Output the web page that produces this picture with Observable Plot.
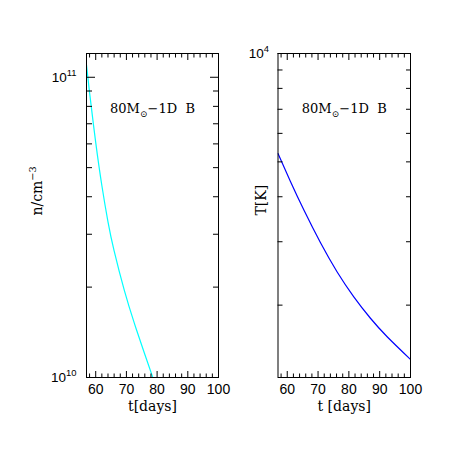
<!DOCTYPE html>
<html>
<head>
<meta charset="utf-8">
<script src="https://cdn.jsdelivr.net/npm/d3@7"></script>
<script src="https://cdn.jsdelivr.net/npm/@observablehq/plot@0.6"></script>
<style>
  body { margin: 0; background: #fff; }
  #chart { position: relative; width: 463px; height: 463px; background: #fff; }
  #chart svg { position: absolute; left: 0; top: 0; }
</style>
</head>
<body>
<div id="chart"></div>
<script>
// ---- data ----
const xDomain = [57, 100];
const xMajorTicks = [60, 70, 80, 90, 100];
const xMinorTicks = [58, 62, 64, 66, 68, 72, 74, 76, 78, 82, 84, 86, 88, 92, 94, 96, 98];

const densityDays = [57, 58, 60, 62, 64, 66, 69.3, 72.6, 75.9, 78.6];
const densityValues = [1.099e11, 8.89e10, 6.07e10, 4.36e10, 3.30e10, 2.64e10, 1.954e10, 1.514e10, 1.202e10, 1.0e10];
const densityDomain = [1e10, 1.2e11];
const densityMajorTicks = [1e10, 1e11];
const densityMinorTicks = [2e10, 3e10, 4e10, 5e10, 6e10, 7e10, 8e10, 9e10];
const densityTickLabels = ["10^{10}", "10^{11}"];

const tempDays = [57, 61, 65.4, 70.8, 76.2, 81.6, 87, 92.5, 100];
const tempValues = [5272, 4416, 3673, 2979, 2472, 2109, 1839, 1631, 1413];
const tempDomain = [1259, 1e4];
const tempMajorTicks = [1e4];
const tempMinorTicks = [2000, 3000, 4000, 5000, 6000, 7000, 8000, 9000];
const tempTickLabels = ["10^{4}"];

const panelLabel = "80M_{⊙}\u22121D\u00a0 B";
const densityXLabel = "t[days]";
const densityYLabel = "n/cm^{\u22123}";
const tempXLabel = "t [days]";
const tempYLabel = "T[K]";

const SERIF = "DejaVu Serif";
const SANS = "Liberation Sans";

function panel(o) {
  const rows = o.days.map((d, i) => ({t: d, v: o.values[i]}));
  const tickX = (ticks, anchor, L) => Plot.axisX({ticks, anchor, tickSize: L, fill: "none", label: null, dy: anchor === "bottom" ? -L : L, stroke: "#000"});
  const tickY = (ticks, anchor, L) => Plot.axisY({ticks, anchor, tickSize: L, fill: "none", label: null, dx: anchor === "left" ? L : -L, stroke: "#000"});
  return Plot.plot({
    width: 463,
    height: 463,
    marginLeft: o.left,
    marginRight: o.right,
    marginTop: 53,
    marginBottom: 86,
    style: {background: "transparent", overflow: "visible"},
    x: {domain: xDomain},
    y: {type: "log", domain: o.domain},
    marks: [
      Plot.line(rows, {x: "t", y: "v", stroke: o.color, strokeWidth: 1.2, curve: "natural", clip: true}),
      Plot.frame({stroke: "#000", strokeWidth: 1}),
      tickX(xMajorTicks, "bottom", 6),
      tickX(xMinorTicks, "bottom", 3.5),
      tickX(xMajorTicks, "top", 6),
      tickX(xMinorTicks, "top", 3.5),
      tickY(o.major, "left", 9),
      tickY(o.minor, "left", o.minorLen),
      tickY(o.major, "right", 9),
      tickY(o.minor, "right", o.minorLen),
      Plot.axisX({ticks: xMajorTicks, anchor: "bottom", tickSize: 0, tickPadding: 7, label: null,
        tickFormat: d => String(d), fontFamily: SANS, fontSize: 14, fill: "#000"}),
      Plot.axisY({ticks: o.major, anchor: "left", tickSize: 0, tickPadding: o.yPad, label: null,
        tickFormat: d => o.labels[o.major.indexOf(d)], fontFamily: SANS, fontSize: 13.5, fill: "#000"}),
      Plot.text([panelLabel], {text: d => d, frameAnchor: "top", dy: 50, fontFamily: SERIF, fontSize: 13, fill: "#000"}),
      Plot.text([o.xLabel], {text: d => d, frameAnchor: "bottom", dy: 33, fontFamily: SERIF, fontSize: 14, fill: "#000"}),
      Plot.text([o.yLabel], {text: d => d, frameAnchor: "left", dx: o.yLabelDx, rotate: -90, fontFamily: SERIF, fontSize: 14, fill: "#000"})
    ]
  });
}

function richText(svg) {
  d3.select(svg).selectAll("text").each(function() {
    const el = this;
    const s = el.textContent;
    if (!/[\^_]\{/.test(s)) return;
    const fs = parseFloat(getComputedStyle(el).fontSize) || 12;
    const parts = [];
    const re = /([\^_])\{([^}]*)\}/g;
    let last = 0, m;
    while ((m = re.exec(s))) {
      if (m.index > last) parts.push({t: s.slice(last, m.index), k: ""});
      parts.push({t: m[2], k: m[1]});
      last = re.lastIndex;
    }
    if (last < s.length) parts.push({t: s.slice(last), k: ""});
    while (el.firstChild) el.removeChild(el.firstChild);
    let shift = 0;
    for (const p of parts) {
      const ts = d3.select(el).append("tspan").text(p.t);
      const target = p.k === "^" ? -0.42 * fs : p.k === "_" ? 0.35 * fs : 0;
      if (target !== shift) ts.attr("dy", target - shift);
      if (p.k) ts.attr("font-size", 0.7 * fs);
      shift = target;
    }
  });
}

const chart = document.getElementById("chart");
const left = panel({
  left: 86, right: 245, days: densityDays, values: densityValues, domain: densityDomain,
  major: densityMajorTicks, minor: densityMinorTicks, labels: densityTickLabels, minorLen: 6,
  color: "#00ffff", xLabel: densityXLabel, yLabel: densityYLabel, yLabelDx: -49, yPad: 10
});
const right = panel({
  left: 277.5, right: 53, days: tempDays, values: tempValues, domain: tempDomain,
  major: tempMajorTicks, minor: tempMinorTicks, labels: tempTickLabels, minorLen: 5,
  color: "#0000ff", xLabel: tempXLabel, yLabel: tempYLabel, yLabelDx: -16, yPad: 9
});
chart.appendChild(left);
chart.appendChild(right);
richText(left);
richText(right);
</script>
</body>
</html>
